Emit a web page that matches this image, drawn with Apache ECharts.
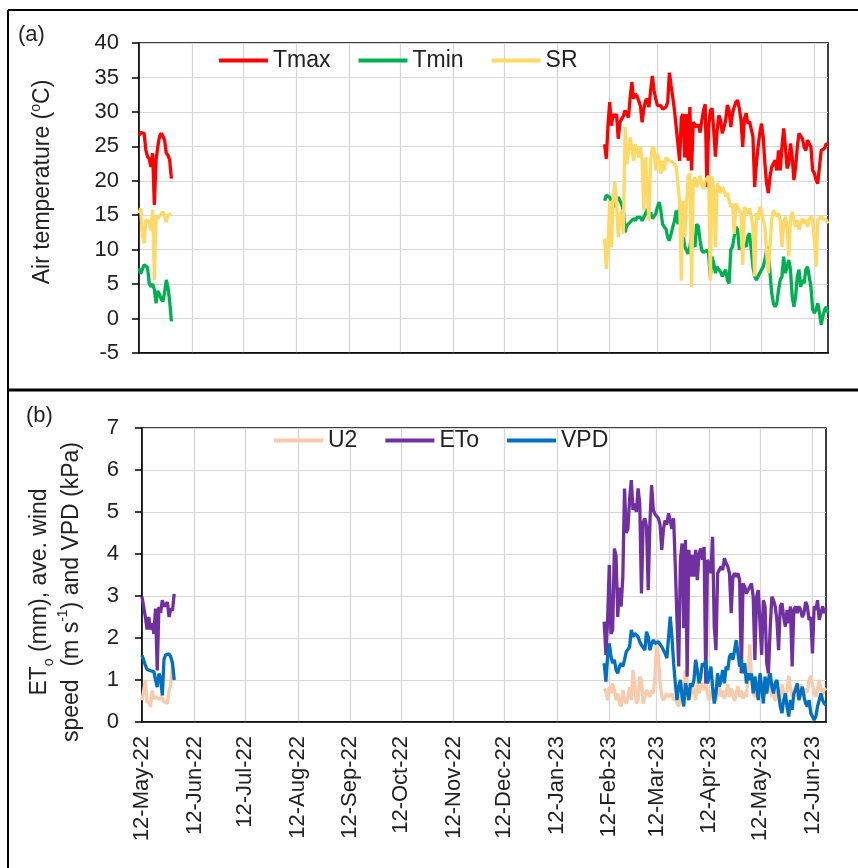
<!DOCTYPE html>
<html><head><meta charset="utf-8">
<script src="https://cdn.jsdelivr.net/npm/echarts@6/dist/echarts.min.js"></script>
<style>html,body{margin:0;padding:0;background:#fff}#c{width:858px;height:868px}</style>
</head><body><div id="c"></div>
<script>
// ---- tick labels / categories ----
const tickLabels = ['12-May-22','12-Jun-22','12-Jul-22','12-Aug-22','12-Sep-22','12-Oct-22','12-Nov-22','12-Dec-22','12-Jan-23','12-Feb-23','12-Mar-23','12-Apr-23','12-May-23','12-Jun-23'];
const firstDay = '2022-05-12', lastDay = '2023-06-20';
const seg1Start = '12-May-22', seg2Start = '9-Feb-23';

// ---- panel (a), segment 1 (12-May-22 .. 31-May-22) ----
const tmax1 = [26.6,27,27,26.9,24.5,23.5,23.2,22,24,16.5,23,24.9,26.4,26.9,26.5,25.9,24,23.7,23,20.3];
const tmin1 = [7.3,6.5,6.6,7.8,7.6,7.4,5.1,4.6,5.0,4.2,2.2,4.0,3.5,2.8,2.5,3.8,5.6,4.5,2.5,-0.4];
const sr1   = [15.3,16,12,10.9,14.3,14.2,14.1,12.8,15.8,5.6,14.8,14.5,14.5,15.2,15.5,15,14,15,14.8,15.2];
// ---- panel (a), segment 2 (9-Feb-23 .. 20-Jun-23) ----
const tmax2 = [25.3,23.2,28,31.4,28,29.7,29.2,29.7,26.1,28.5,29,29.4,30.2,30.4,29.2,32.1,34.3,31.9,32.6,32.3,
  31.6,30.9,28.5,30.4,31.6,31.9,30.7,33.1,35.2,33.1,31.9,30.9,31.1,30.9,30.4,30.2,30.7,31.4,35.7,33.8,
  32.1,30.2,27.8,25.3,22.9,29.2,29.7,23.4,29.7,22.9,30.7,21.5,28.5,28.5,27.8,28.2,27,28.7,30.2,31.1,
  19.1,27.8,30.2,
  30.5,27.3,23.5,27.3,29.5,28.8,26.9,27.8,28.8,31.0,30.2,27.8,29.8,30.7,31.4,31.7,30.5,28.8,24.9,29.0,
  29.8,28.3,28.6,28.6,26.4,19.1,22.5,24.9,26.9,28.3,26.4,22.5,19.6,18.2,20.6,22.0,22.5,23.0,21.5,24.4,
  21.5,24.9,27.6,24.9,21.8,22.5,25.4,23.5,20.1,22.0,24.9,26.9,27.1,26.1,24.9,24.4,25.9,26.1,24.9,21.5,
  21.1,20.1,19.6,22.0,24.4,24.2,24.7,25.4,25.2];
const tmin2 = [17.1,17.9,18.1,17.6,17.1,16.6,16.2,17.1,17.6,17.4,16.6,15.7,12.5,13.5,13.7,14.0,14.2,14.5,14.2,14.7,
  14.5,14.7,14.2,14.7,15.2,15.9,15.0,15.4,14.5,14.7,15.2,16.2,16.9,15.7,13.7,13.3,13.0,11.8,11.3,12.3,
  13.3,14.2,15.7,13.7,16.2,14.7,12.3,10.4,9.9,9.4,10.4,11.8,10.8,10.4,13.7,13.3,11.3,9.9,9.6,9.4,
  9.9,9.4,6.0,
  9.0,8.0,6.6,7.5,7.1,6.8,6.1,6.6,7.1,5.6,5.1,10.0,10.4,11.9,13.3,12.9,10.0,10.4,10.0,10.9,
  10.4,11.9,12.4,10.0,7.5,6.1,5.6,6.1,6.6,7.1,7.5,8.5,10.0,10.4,6.6,3.7,2.2,1.7,2.2,4.2,
  5.6,6.1,9.0,6.6,7.5,8.5,7.1,3.2,1.7,3.2,6.1,7.1,4.6,5.6,5.1,7.1,7.5,7.5,4.6,1.3,
  0.8,1.3,2.2,0.8,-0.9,0.3,1.3,1.7,0.8];
const sr2 = [11.6,7.2,10.4,17.1,10.4,17.1,19.8,17.1,11.8,14.7,15.7,12.3,27.8,22.4,22.4,26.3,26.5,22.9,25.3,24.6,
  23.4,24.9,22.9,15.7,23.4,23.4,14.2,22.9,24.9,24.6,21.5,23.9,22.9,21.0,22.9,21.5,23.4,23.6,22.9,22.9,
  22.7,22.9,22.0,22.0,17.1,5.5,17.1,11.8,16.6,20.7,21.0,4.6,20.0,20.5,19.1,19.8,20.7,19.5,18.8,20.0,
  20.3,20.7,5.5,
  20.6,18.6,10.4,19.6,19.1,18.2,19.1,18.6,17.7,18.2,17.2,16.2,16.7,12.3,16.7,16.2,15.7,15.3,7.8,16.2,
  15.7,15.3,16.0,14.8,13.3,6.1,15.3,14.3,16.2,15.7,14.3,13.3,9.5,6.6,6.6,14.3,15.7,15.3,14.8,15.3,
  14.3,10.4,13.8,14.8,13.3,9.0,14.3,15.5,14.3,13.3,14.3,12.9,13.8,14.5,13.8,14.3,13.3,14.3,14.8,14.3,
  11.4,7.5,14.3,14.5,14.8,14.5,14.5,14.3,13.8];

// ---- panel (b), segment 1 ----
const u21  = [0.52,0.48,1.0,0.45,0.5,0.36,0.75,0.55,0.6,0.62,0.55,0.52,0.58,0.48,0.5,0.45,0.75,0.9,1.4,1.0];
const eto1 = [2.98,2.95,2.5,2.2,2.5,2.2,2.35,2.1,2.7,1.23,2.74,2.6,2.9,2.75,2.8,2.85,2.5,2.7,2.65,3.05];
const vpd1 = [1.59,1.55,1.35,1.25,1.23,1.22,1.19,1.2,1.0,0.83,1.15,1.05,0.63,1.5,1.6,1.63,1.62,1.55,1.4,1.0];
// ---- panel (b), segment 2 ----
const u22 = [0.8,0.72,0.52,0.84,0.68,0.92,0.76,0.52,0.68,0.44,0.37,0.76,0.52,0.44,0.6,0.84,0.52,1.24,0.92,0.44,
  0.52,1.08,1.0,0.44,0.6,0.76,0.68,0.6,0.76,0.68,1.08,1.99,1.56,0.92,0.6,0.52,0.6,0.68,0.6,0.6,
  0.68,0.52,0.6,0.44,0.37,0.6,0.52,0.84,1.24,0.92,0.76,0.6,0.84,0.76,0.52,0.92,0.68,0.84,0.92,0.76,
  1.0,0.68,0.52,
  0.6,0.8,0.7,0.5,0.65,0.85,0.6,0.75,0.55,0.7,0.9,0.6,0.8,0.65,0.5,0.7,0.85,0.6,0.75,0.55,
  0.7,0.6,1.1,1.85,1.0,0.7,0.6,0.8,0.55,0.7,0.85,0.6,0.7,1.0,1.24,0.8,0.6,0.7,0.5,0.65,
  0.8,0.6,0.9,0.7,0.55,0.75,1.1,0.8,0.6,0.7,0.85,0.6,0.7,0.9,0.75,0.6,0.8,0.7,1.0,1.1,
  0.9,0.7,0.6,0.8,1.0,0.75,0.65,0.8,0.75];
const eto2 = [2.39,1.6,2.4,3.74,2.1,2.2,4.13,3.95,2.5,3.2,2.75,3.46,5.56,4.5,4.6,5.3,5.76,5.05,5.2,5.0,
  5.56,5.2,3.06,4.75,4.85,4.65,3.14,4.75,5.64,5.05,4.95,4.9,4.85,4.7,4.1,4.6,4.8,4.7,4.97,4.8,
  4.6,4.85,3.7,2.43,1.32,3.85,4.25,2.23,4.33,1.08,4.1,3.46,3.98,3.46,4.1,3.38,4.0,4.13,3.86,4.17,
  0.92,3.86,3.78,3.54,4.41,2.27,1.71,3.54,3.62,3.7,3.62,3.9,3.78,3.7,3.54,2.59,3.46,3.54,3.46,3.54,
  3.38,1.16,3.3,3.22,3.06,3.14,3.1,3.3,2.98,1.48,2.98,3.14,3.14,1.6,2.9,2.75,1.4,1.16,2.2,2.98,
  2.9,2.75,2.43,1.71,2.75,2.83,2.5,2.27,2.67,2.35,2.75,1.32,2.67,2.75,2.59,2.75,2.67,2.5,2.59,2.86,
  2.75,2.43,2.5,1.63,2.75,2.67,2.9,2.43,2.59,2.75,2.59,2.7];
const vpd2 = [1.4,0.96,1.56,1.87,1.56,1.4,1.48,1.24,1.16,1.32,1.4,1.32,1.48,1.67,1.63,1.79,2.19,2.03,2.11,2.07,
  2.03,1.91,1.83,1.79,1.71,2.15,2.03,1.71,1.87,1.95,1.87,1.91,1.91,1.87,1.79,1.71,1.63,1.52,1.48,2.51,
  2.03,1.4,0.92,0.52,0.84,1.0,0.6,0.37,0.92,0.76,0.52,0.92,0.84,1.0,1.48,1.24,0.92,1.08,1.4,1.32,
  1.48,0.92,1.08,
  1.32,0.84,0.44,0.68,1.16,0.84,1.0,1.24,0.92,1.32,1.24,1.56,1.63,1.48,1.71,1.95,1.63,1.32,1.48,1.16,
  1.4,0.92,1.16,1.0,1.16,0.68,1.08,0.84,0.52,1.16,0.84,0.44,1.08,0.68,1.0,1.16,0.84,0.68,0.92,1.0,
  0.68,0.37,0.21,0.52,0.68,0.37,0.13,0.52,0.29,0.68,0.76,0.92,0.52,0.68,0.84,0.6,0.44,0.37,0.52,0.21,
  0.13,0.05,0.13,0.37,0.52,0.68,0.52,0.44,0.4];

// ---- build axis categories and series arrays ----
const MONTHS = ['Jan','Feb','Mar','Apr','May','Jun','Jul','Aug','Sep','Oct','Nov','Dec'];
function fmt(d){ return d.getUTCDate()+'-'+MONTHS[d.getUTCMonth()]+'-'+String(d.getUTCFullYear()).slice(2); }
const categories = [];
for (let t = Date.parse(firstDay+'T00:00:00Z'); t <= Date.parse(lastDay+'T00:00:00Z'); t += 86400000) categories.push(fmt(new Date(t)));
function place(a, b){
  const out = categories.map(()=>null);
  const i1 = categories.indexOf(seg1Start), i2 = categories.indexOf(seg2Start);
  a.forEach((v,k)=>{ out[i1+k]=v; });
  b.forEach((v,k)=>{ out[i2+k]=v; });
  return out;
}
const isTick = (i, v) => tickLabels.indexOf(v) >= 0;

const FONT = '"Liberation Sans", Arial, sans-serif';
const TXT = '#222';
const GRID = '#d6d6d6';

function line(name, color, data, idx){
  return {name, type:'line', xAxisIndex:idx, yAxisIndex:idx, data, symbol:'none', showSymbol:false,
    connectNulls:false, color, itemStyle:{color}, lineStyle:{color, width:3.3}, emphasis:{disabled:true}, animation:false};
}
function xAxis(idx, showLabels){
  return {type:'category', gridIndex:idx, data:categories, boundaryGap:false,
    axisLine:{show:true, onZero:false, lineStyle:{color:'#000', width:1.5}},
    axisTick:{show:false, interval:isTick},
    splitLine:{show:true, interval:isTick, lineStyle:{color:GRID, width:1.2}},
    axisLabel:{show:showLabels, interval:isTick, rotate:90, fontSize:22, fontFamily:FONT, color:TXT, margin:14}};
}
function yAxis(idx, min, max, interval, margin){
  return {type:'value', gridIndex:idx, min, max, interval,
    axisLine:{show:true, onZero:false, lineStyle:{color:'#000', width:1.5}},
    axisTick:{show:true, length:7, lineStyle:{color:'#000', width:1.5}},
    splitLine:{show:true, lineStyle:{color:GRID, width:1.2}},
    axisLabel:{fontSize:22, fontFamily:FONT, color:TXT, margin}};
}
function legend(data, left, top){
  return {data, left, top, padding:0, itemWidth:49, itemHeight:4, itemGap:28, icon:'rect',
    textStyle:{fontSize:23, fontFamily:FONT, color:TXT}, selectedMode:false};
}

const chart = echarts.init(document.getElementById('c'), null, {renderer:'canvas'});
chart.setOption({
  animation:false,
  backgroundColor:'#fff',
  grid:[
    {left:139, top:43, width:689, height:310, show:true, borderColor:'#000', borderWidth:1.5, backgroundColor:'transparent'},
    {left:142, top:428, width:684, height:294, show:true, borderColor:'#000', borderWidth:1.5, backgroundColor:'transparent'}
  ],
  xAxis:[xAxis(0,false), xAxis(1,true)],
  yAxis:[yAxis(0,-5,40,5,20), yAxis(1,0,7,1,23)],
  legend:[legend(['Tmax','Tmin','SR'],219,49), legend(['U2','ETo','VPD'],274,429)],
  series:[
    line('Tmax','#FF0000',place(tmax1,tmax2),0),
    line('Tmin','#00B050',place(tmin1,tmin2),0),
    line('SR','#FFD966',place(sr1,sr2),0),
    line('U2','#F8CBAD',place(u21,u22),1),
    line('ETo','#7030A0',place(eto1,eto2),1),
    line('VPD','#0070C0',place(vpd1,vpd2),1)
  ],
  graphic:[
    {type:'line', shape:{x1:8,y1:10,x2:858,y2:10}, style:{stroke:'#000', lineWidth:2}},
    {type:'line', shape:{x1:8,y1:10,x2:8,y2:868}, style:{stroke:'#000', lineWidth:2}},
    {type:'line', shape:{x1:8,y1:390,x2:858,y2:390}, style:{stroke:'#000', lineWidth:3}},
    {type:'text', x:18, y:35, style:{text:'(a)', fontSize:22, fontFamily:FONT, fill:TXT, verticalAlign:'middle'}},
    {type:'text', x:26, y:416, style:{text:'(b)', fontSize:22, fontFamily:FONT, fill:TXT, verticalAlign:'middle'}},
    {type:'text', x:43, y:182, rotation:Math.PI/2, style:{
      text:'{n|Air temperature (}{sup|o}{n|C)}', align:'center', verticalAlign:'middle',
      rich:{n:{fontSize:23, fontFamily:FONT, fill:TXT, lineHeight:28}, sup:{fontSize:14, fontFamily:FONT, fill:TXT, verticalAlign:'top'}}}},
    {type:'text', x:56, y:592, rotation:Math.PI/2, style:{
      text:'{n|ET}{sub|o}{n| (mm), ave. wind}\n{n|speed  (m s}{sup|-1}{n|) and VPD (kPa)}', align:'center', verticalAlign:'middle',
      rich:{n:{fontSize:23, fontFamily:FONT, fill:TXT, lineHeight:32, align:'center'},
            sub:{fontSize:14, fontFamily:FONT, fill:TXT, verticalAlign:'bottom'},
            sup:{fontSize:14, fontFamily:FONT, fill:TXT, verticalAlign:'top'}}}}
  ]
});
</script>
</body></html>
